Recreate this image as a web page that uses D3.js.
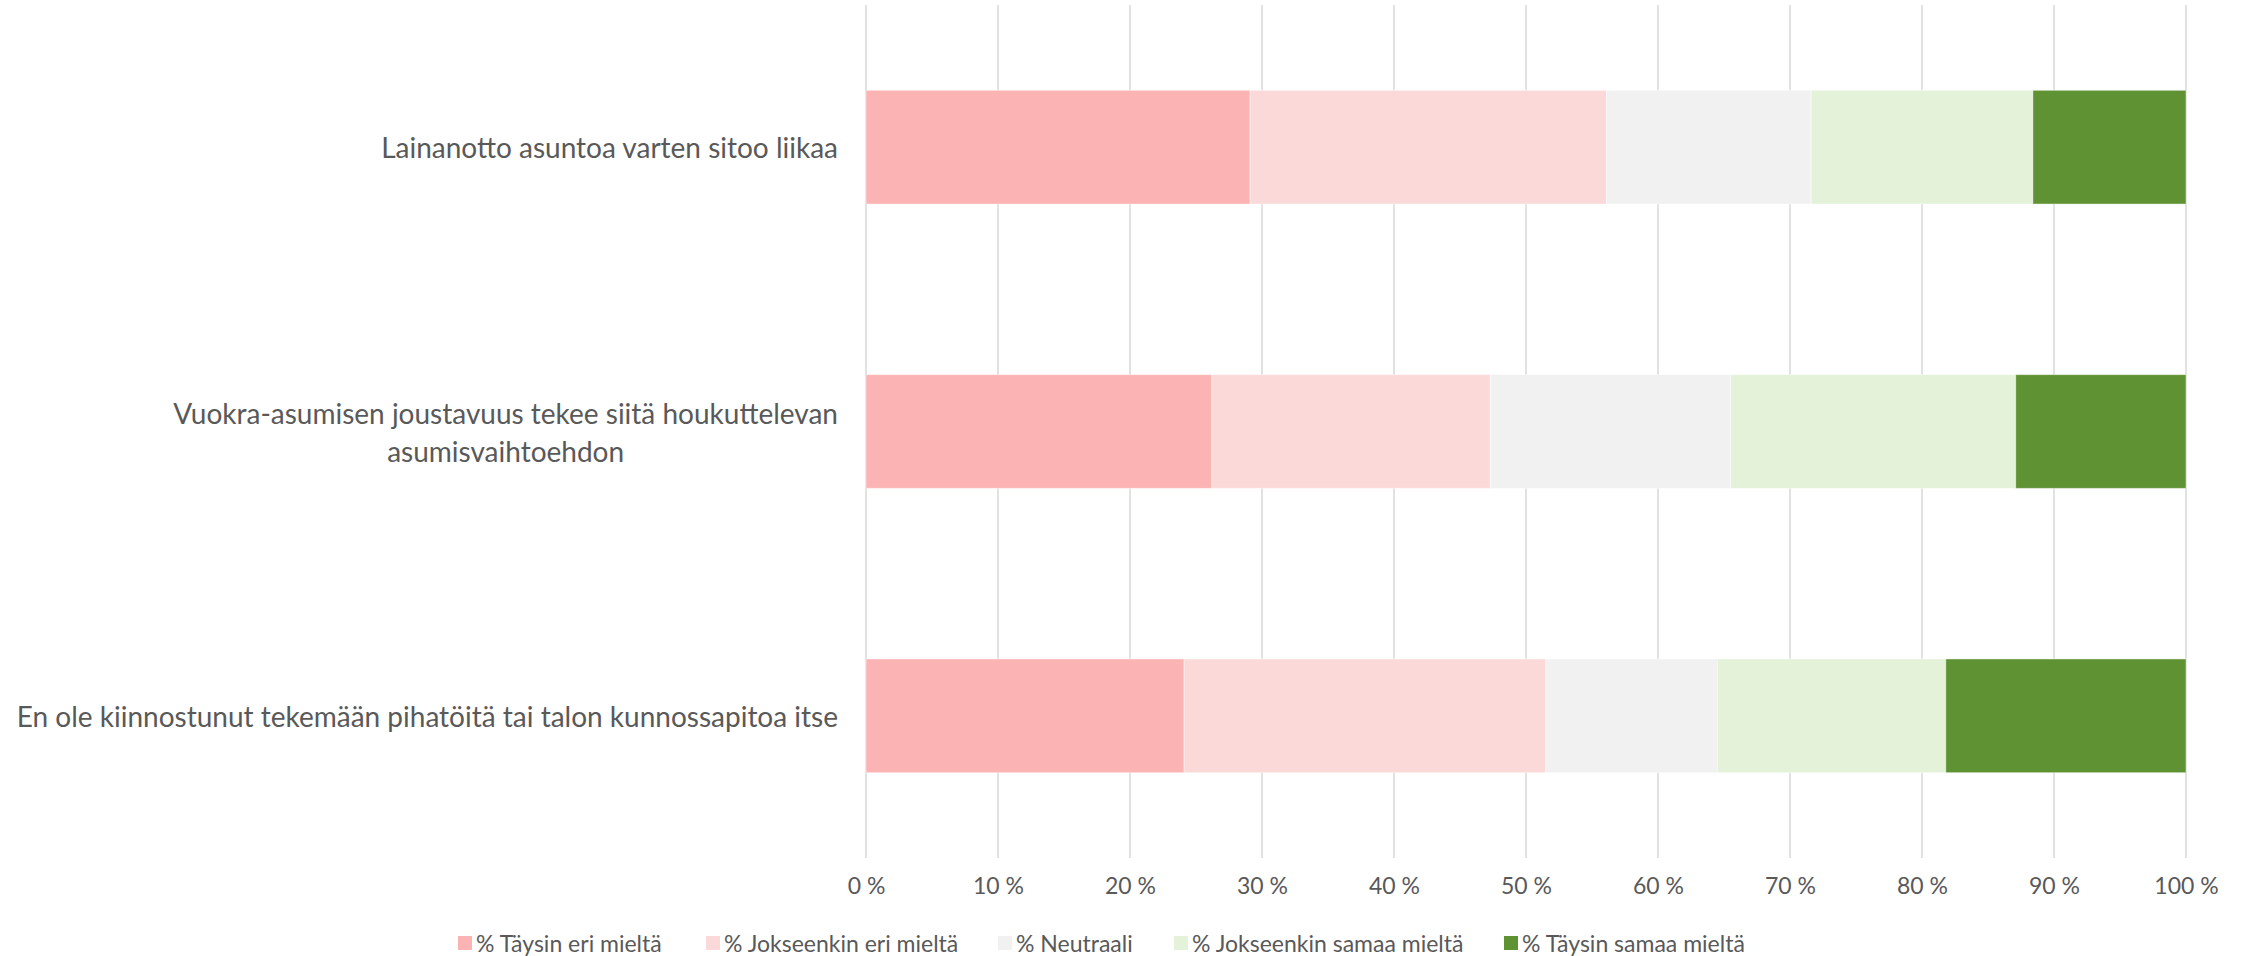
<!DOCTYPE html>
<html>
<head>
<meta charset="utf-8">
<script src="https://cdn.jsdelivr.net/npm/d3@7"></script>
<style>
  html, body { margin: 0; padding: 0; background: #fff; }
  svg { display: block; }
</style>
</head>
<body>
<svg id="chart" width="2241" height="956"></svg>
<script>
const categories = [
  ["Lainanotto asuntoa varten sitoo liikaa"],
  ["Vuokra-asumisen joustavuus tekee siitä houkuttelevan", "asumisvaihtoehdon"],
  ["En ole kiinnostunut tekemään pihatöitä tai talon kunnossapitoa itse"]
];
const seriesNames = ["% Täysin eri mieltä", "% Jokseenkin eri mieltä", "% Neutraali", "% Jokseenkin samaa mieltä", "% Täysin samaa mieltä"];
const seriesColors = ["#FCB3B3", "#FCD9D9", "#F1F1F1", "#E4F2DA", "#5E9232"];
const taysinEri = [29.1, 26.2, 24.1];
const jokseenkinEri = [27.0, 21.1, 27.4];
const neutraali = [15.5, 18.2, 13.0];
const jokseenkinSamaa = [16.8, 21.6, 17.3];
const taysinSamaa = [11.6, 12.9, 18.2];
const tickValues = [0, 10, 20, 30, 40, 50, 60, 70, 80, 90, 100];

const values = [taysinEri, jokseenkinEri, neutraali, jokseenkinSamaa, taysinSamaa];
const keys = categories.map((c, i) => i);
const rows = keys.map(i => {
  const r = { idx: i };
  seriesNames.forEach((s, j) => r[s] = values[j][i]);
  return r;
});

const svg = d3.select("#chart");
const x = d3.scaleLinear().domain([0, 100]).range([866, 2186]);
const y = d3.scaleBand().domain(keys).range([5, 858]).paddingInner(0.6).paddingOuter(0.3);

// gridlines
svg.append("g").selectAll("line").data(tickValues).join("line")
  .attr("x1", d => x(d)).attr("x2", d => x(d))
  .attr("y1", 5).attr("y2", 858)
  .attr("stroke", "#D9D9D9").attr("stroke-width", 1.5);

// stacked bars
const stack = d3.stack().keys(seriesNames)(rows);
svg.append("g").selectAll("g").data(stack).join("g")
  .attr("fill", (d, i) => seriesColors[i])
  .selectAll("rect").data(d => d).join("rect")
  .attr("x", d => x(d[0]))
  .attr("width", d => x(d[1]) - x(d[0]))
  .attr("y", d => y(d.data.idx))
  .attr("height", y.bandwidth())
  .attr("stroke", "#ffffff").attr("stroke-opacity", 0.45).attr("stroke-width", 1);

// x axis labels
const xAxis = d3.axisBottom(x).tickValues(tickValues).tickFormat(d => d + " %").tickSize(0).tickPadding(0);
const ax = svg.append("g").attr("transform", "translate(0,878)").call(xAxis);
ax.select(".domain").remove();
ax.selectAll("text")
  .attr("fill", "#595959")
  .style("font-family", "Lato, sans-serif")
  .style("font-size", "23px");

// category labels
const labelRight = 838;
const lg = svg.append("g");
categories.forEach((lines, i) => {
  const cy = y(i) + y.bandwidth() / 2;
  const lh = 38;
  const t = lg.append("text")
    .attr("fill", "#595959")
    .style("font-family", "Lato, sans-serif")
    .style("font-size", "28px");
  const spans = lines.map((ln, k) => t.append("tspan")
    .attr("dominant-baseline", "central")
    .attr("y", cy + (k - (lines.length - 1) / 2) * lh)
    .text(ln));
  if (lines.length === 1) {
    t.attr("text-anchor", "end");
    spans[0].attr("x", labelRight);
  } else {
    const w = d3.max(spans, s => s.node().getComputedTextLength());
    t.attr("text-anchor", "middle");
    spans.forEach(s => s.attr("x", labelRight - w / 2));
  }
});

// legend
const legendX = [458, 706, 998, 1174, 1504];
const legY = 943;
const leg = svg.append("g");
seriesNames.forEach((s, i) => {
  leg.append("rect")
    .attr("x", legendX[i]).attr("y", legY - 7)
    .attr("width", 14).attr("height", 14)
    .attr("fill", seriesColors[i]);
  leg.append("text")
    .attr("x", legendX[i] + 18).attr("y", legY)
    .attr("dominant-baseline", "central")
    .attr("fill", "#595959")
    .style("font-family", "Lato, sans-serif")
    .style("font-size", "23px")
    .text(s);
});
</script>
</body>
</html>
